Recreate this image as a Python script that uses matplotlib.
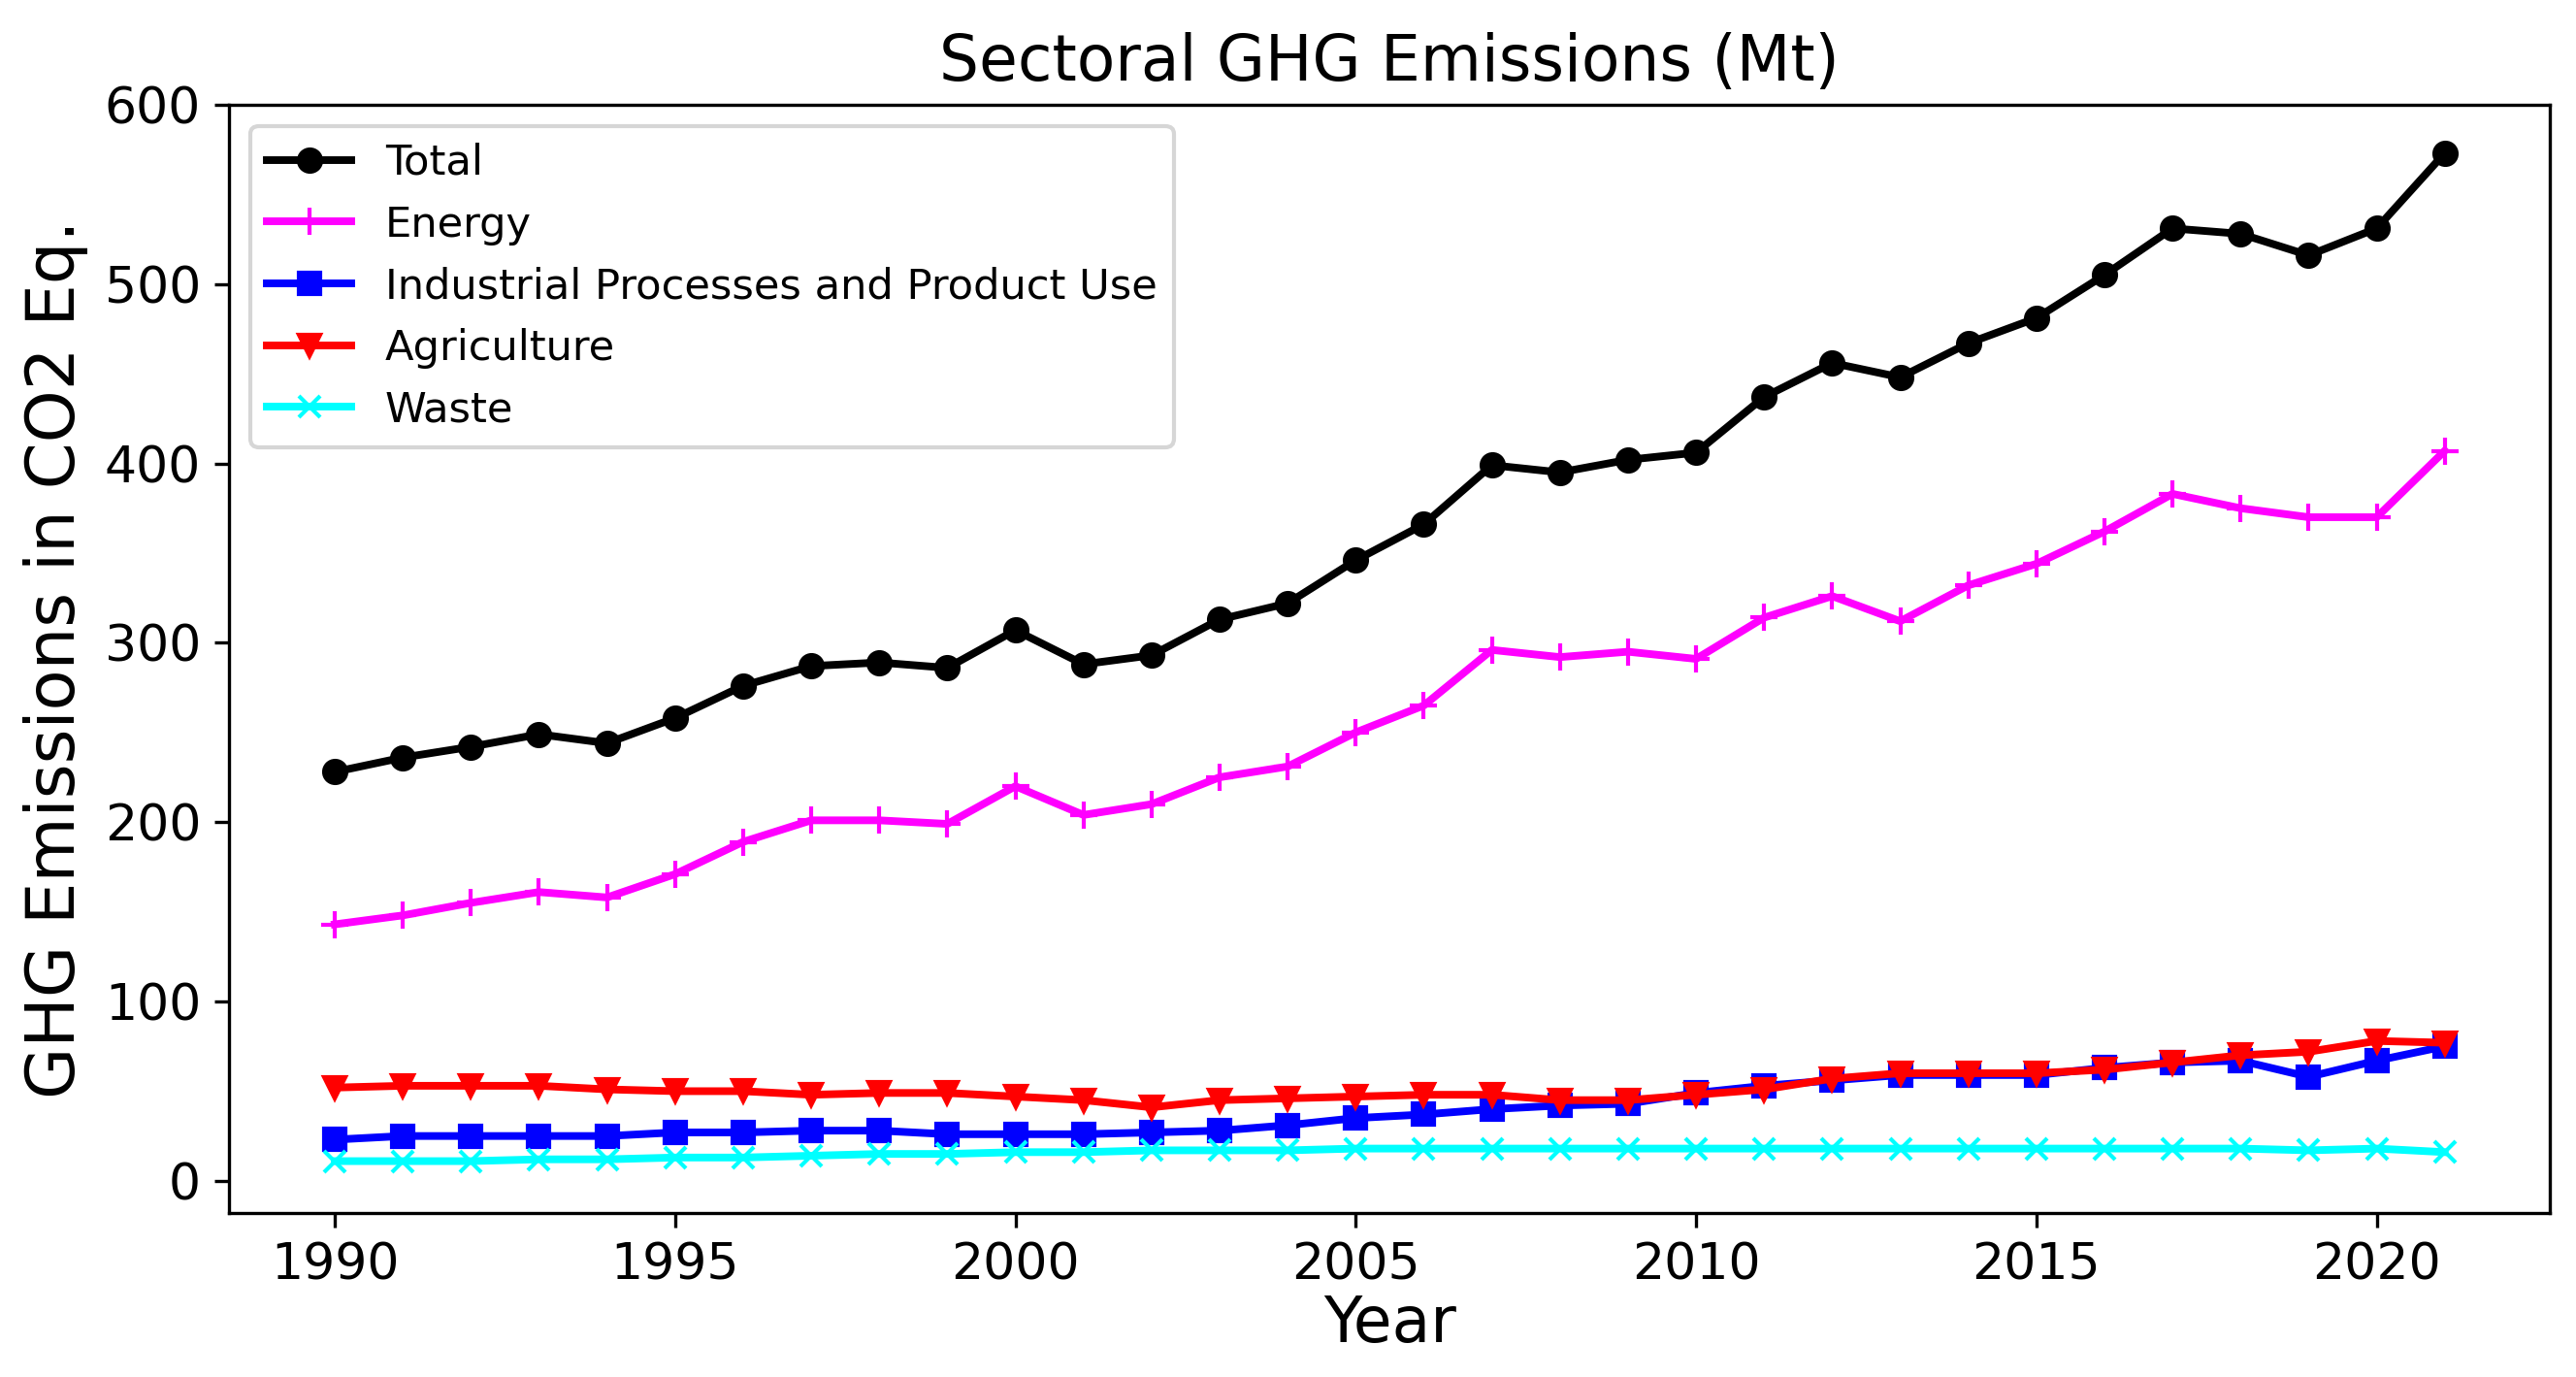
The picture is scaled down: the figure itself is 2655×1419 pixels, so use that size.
import matplotlib.pyplot as plt

years = list(range(1990, 2022))

total = [228, 236, 242, 249, 244, 258, 276, 287, 289, 286, 307, 288, 293, 313, 322, 346,
         366, 399, 395, 402, 406, 437, 456, 448, 467, 481, 505, 531, 528, 516, 531, 573]
energy = [143, 148, 155, 161, 158, 171, 189, 201, 201, 199, 220, 204, 210, 225, 231, 250,
          265, 296, 292, 295, 291, 314, 326, 312, 332, 344, 362, 383, 375, 370, 370, 407]
ippu = [23, 25, 25, 25, 25, 27, 27, 28, 28, 26, 26, 26, 27, 28, 31, 35,
        37, 40, 42, 43, 49, 53, 56, 59, 59, 59, 63, 66, 67, 58, 67, 75]
agriculture = [52, 53, 53, 53, 51, 50, 50, 48, 49, 49, 47, 45, 41, 45, 46, 47,
               48, 48, 45, 45, 48, 51, 57, 60, 60, 60, 62, 66, 70, 72, 78, 77]
waste = [11, 11, 11, 12, 12, 13, 13, 14, 15, 15, 16, 16, 17, 17, 17, 18,
         18, 18, 18, 18, 18, 18, 18, 18, 18, 18, 18, 18, 18, 17, 18, 16]


def main():
    fig, ax = plt.subplots(figsize=(8.85, 4.73), dpi=300)
    fig.subplots_adjust(left=0.089, right=0.990, top=0.924, bottom=0.119)

    ax.plot(years, total, marker='o', color='black', lw=1.9, ms=5.5, label='Total')
    ax.plot(years, energy, marker='+', color='magenta', lw=1.9, ms=6.5, label='Energy')
    ax.plot(years, ippu, marker='s', color='blue', lw=1.9, ms=5.5,
            label='Industrial Processes and Product Use')
    ax.plot(years, agriculture, marker='v', color='red', lw=1.9, ms=5.5, label='Agriculture')
    ax.plot(years, waste, marker='x', color='cyan', lw=1.9, ms=5.5, label='Waste')

    ax.set_ylim(-18, 600)
    ax.set_xticks([1990, 1995, 2000, 2005, 2010, 2015, 2020])
    ax.set_title('Sectoral GHG Emissions (Mt)', fontsize=15.5)
    ax.set_xlabel('Year', fontsize=15.5, labelpad=1)
    ax.set_ylabel('GHG Emissions in CO2 Eq.', fontsize=16.5)
    ax.tick_params(labelsize=12.5)
    ax.legend(loc='upper left', fontsize=10.4)

    fig.savefig('out.png')


if __name__ == '__main__':
    main()
